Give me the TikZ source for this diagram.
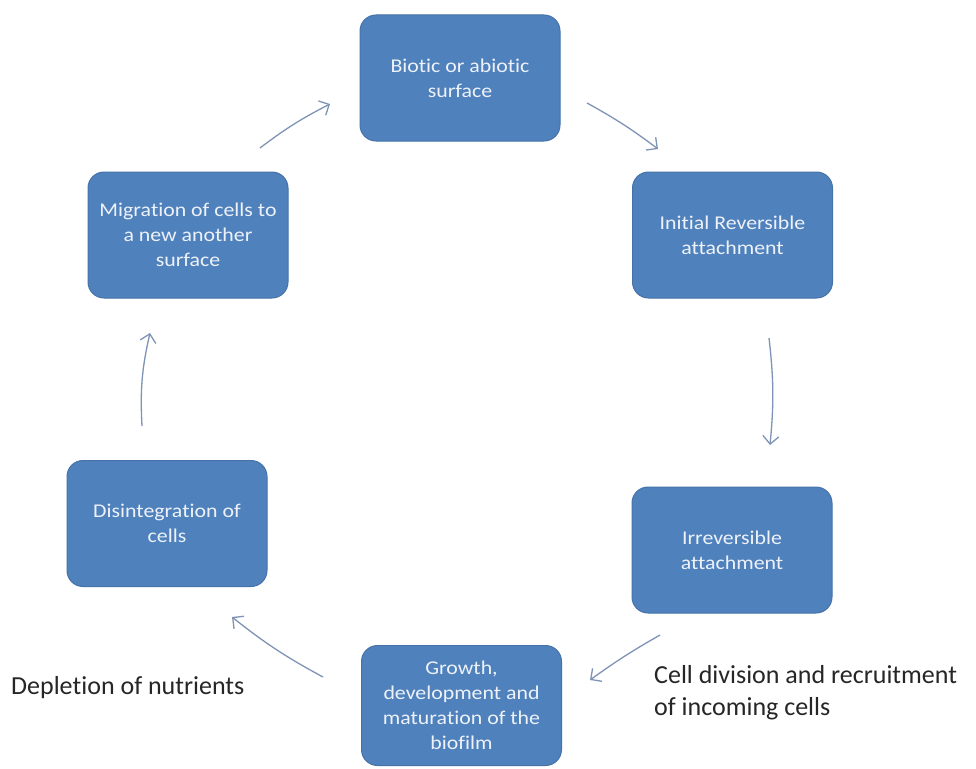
\documentclass[tikz,border=0pt]{standalone}
\usepackage{fontspec}
\setmainfont[RawFeature={-liga;-clig;-dlig;-calt;-rlig;-hlig}]{Carlito}
\newfontfamily\boxfont[FakeStretch=1.12,RawFeature={-liga;-clig;-dlig;-calt;-rlig;-hlig}]{Carlito}
\usetikzlibrary{arrows.meta}
\definecolor{boxblue}{HTML}{4F81BD}
\definecolor{boxedge}{HTML}{4672A8}
\definecolor{arrowc}{HTML}{7E93B5}
\definecolor{boxtext}{HTML}{EEF2F8}
\begin{document}
\begin{tikzpicture}[x=1pt,y=-1pt,
  stage/.style={draw=boxedge, line width=1pt, fill=boxblue, rounded corners=16pt,
    minimum width=200pt, minimum height=126pt, text=boxtext, align=center,
    font=\boxfont\fontsize{19.5}{25}\selectfont, inner sep=0pt},
  flow/.style={draw=arrowc, line width=1.3pt, -{Straight Barb[length=8pt,width=16pt]}},
  note/.style={font=\fontsize{26}{32}\selectfont, text=black!85, align=left, inner sep=0pt}]
\useasboundingbox (0,0) rectangle (976,768);
\fill[white] (0,0) rectangle (976,768);

\node[stage] (s1) at (460,78) {Biotic or abiotic\\surface};
\node[stage] (s2) at (732.5,235) {Initial Reversible\\attachment};
\node[stage] (s3) at (732,550) {Irreversible\\attachment};
\node[stage, minimum height=120pt] (s4) at (461.5,705.5) {Growth,\\development and\\matura\kern0pt tion of the\\biofilm};
\node[stage] (s5) at (167,523.5) {Disintegra\kern0pt tion of\\cells};
\node[stage] (s6) at (188,235) {Migra\kern0pt tion of cells to\\a new another\\surface};

\node[note, anchor=west] (n1) at (11,688) {Deple\kern0pt tion of nutrients};
\node[note, anchor=north west] (n2) at (654,665) {Cell division and recruitment\\of incoming cells};

\coordinate (a1s) at (587,103); \coordinate (a1e) at (658,149);
\coordinate (a2s) at (769,338); \coordinate (a2e) at (770,445);
\coordinate (a3s) at (660,635); \coordinate (a3e) at (590,680);
\coordinate (a4s) at (323,677); \coordinate (a4e) at (232,617);
\coordinate (a5s) at (142,426); \coordinate (a5e) at (150,333);
\coordinate (a6s) at (260,148); \coordinate (a6e) at (330,104);

\draw[flow] (a1s) to[bend left=4] (a1e);
\draw[flow] (a2s) to[bend left=6] (a2e);
\draw[flow] (a3s) to[bend right=3] (a3e);
\draw[flow] (a4s) to[bend left=5] (a4e);
\draw[flow] (a5s) to[bend left=8] (a5e);
\draw[flow] (a6s) to[bend left=5] (a6e);
\end{tikzpicture}
\end{document}
